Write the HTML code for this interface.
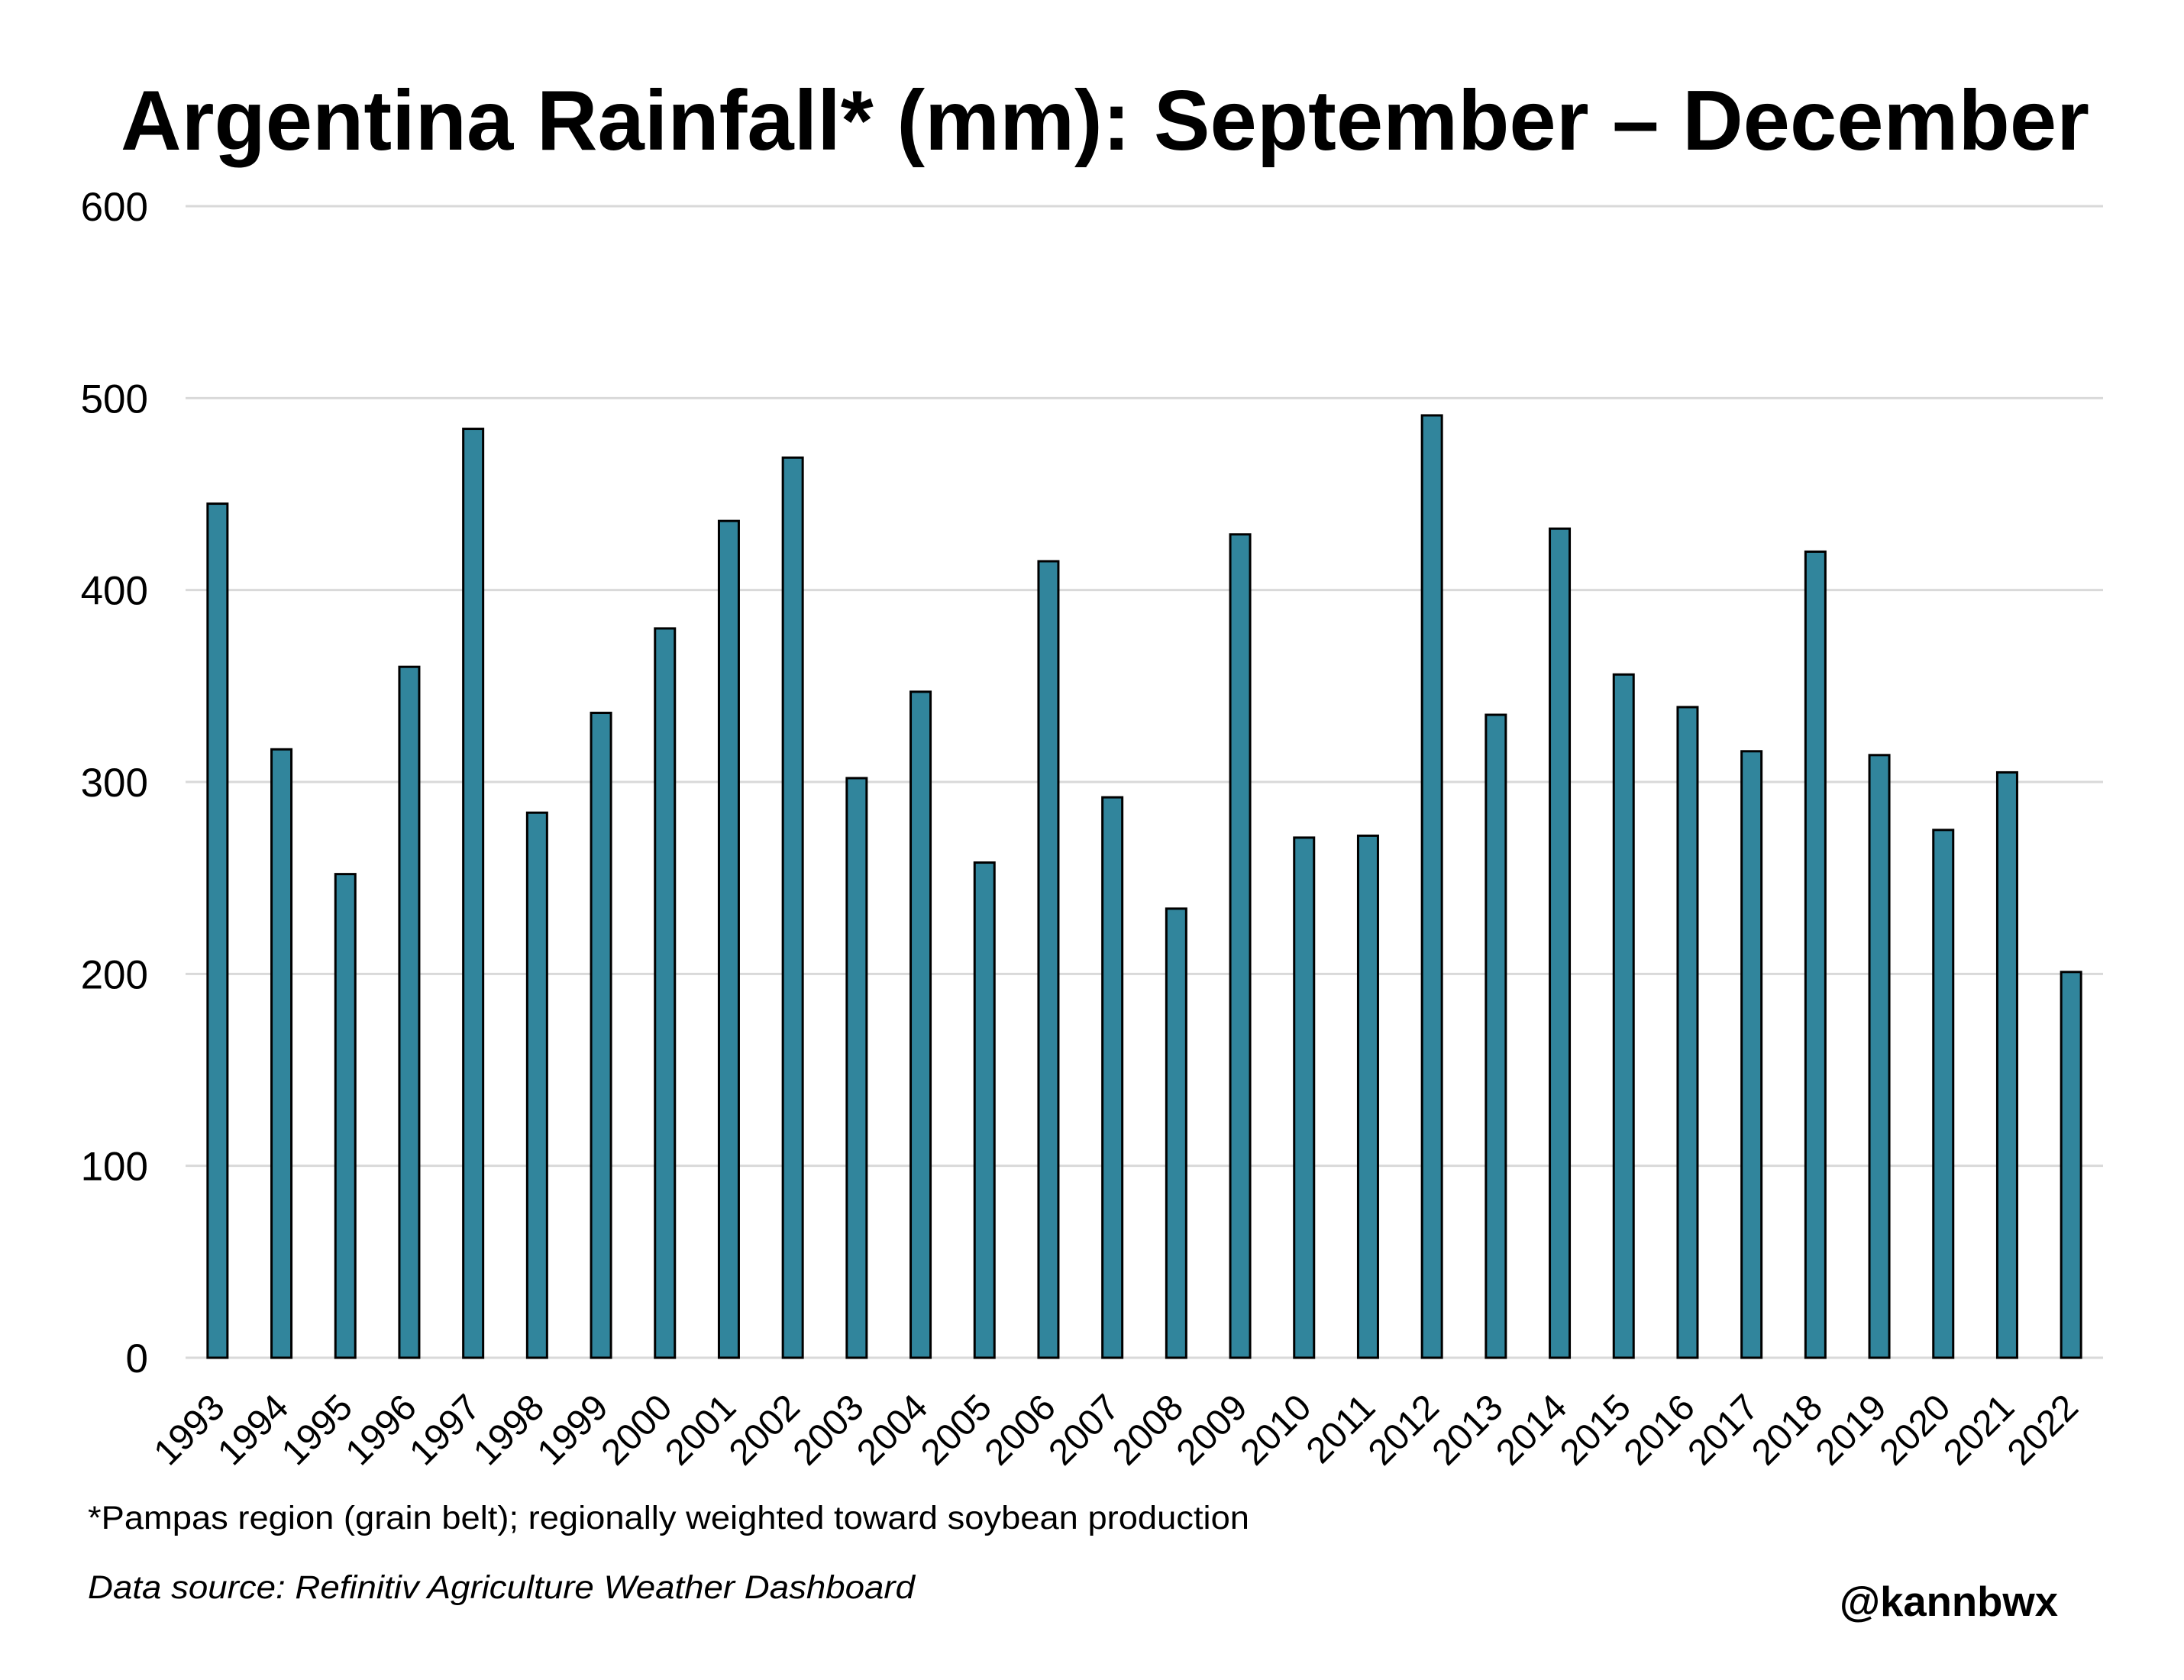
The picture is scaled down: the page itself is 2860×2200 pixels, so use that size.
<!DOCTYPE html>
<html><head><meta charset="utf-8"><style>
html,body{margin:0;padding:0;background:#fff;}
svg{display:block;font-family:"Liberation Sans",Arial,sans-serif;}
</style></head><body>
<svg id="chart" width="2860" height="2200" viewBox="0 0 2860 2200" xmlns="http://www.w3.org/2000/svg">
<rect width="2860" height="2200" fill="#fff"/>
<text x="158" y="196" font-size="111" font-weight="bold" textLength="2578" lengthAdjust="spacingAndGlyphs">Argentina Rainfall* (mm): September – December</text>
<g id="grid"></g><g id="bars"></g><g id="xlabels"></g>
<text x="115" y="2002" font-size="43" textLength="1521" lengthAdjust="spacingAndGlyphs">*Pampas region (grain belt); regionally weighted toward soybean production</text>
<text x="115" y="2093" font-size="43" font-style="italic" textLength="1083" lengthAdjust="spacingAndGlyphs">Data source: Refinitiv Agriculture Weather Dashboard</text>
<text x="2409" y="2116" font-size="55" font-weight="bold" textLength="286" lengthAdjust="spacingAndGlyphs">@kannbwx</text>
</svg>
<script>
const years = ["1993","1994","1995","1996","1997","1998","1999","2000","2001","2002","2003","2004","2005","2006","2007","2008","2009","2010","2011","2012","2013","2014","2015","2016","2017","2018","2019","2020","2021","2022"];
const rainfall = [445,317,252,360,484,284,336,380,436,469,302,347,258,415,292,234,429,271,272,491,335,432,356,339,316,420,314,275,305,201];
const yTicks = [0,100,200,300,400,500,600];

const NS = "http://www.w3.org/2000/svg";
const plotL = 243, plotR = 2754, y0 = 1778, yTop = 270, yMax = 600;
const band = (plotR - plotL) / years.length;
function yScale(v){ return y0 - (v / yMax) * (y0 - yTop); }
function xCenter(i){ return plotL + (i + 0.5) * band; }
function mk(tag, attrs, parent){ const e = document.createElementNS(NS, tag); for (const k in attrs) e.setAttribute(k, attrs[k]); parent.appendChild(e); return e; }

const grid = document.getElementById('grid');
yTicks.forEach(t => {
  const y = yScale(t);
  const ln = mk('line', {x1: plotL, x2: plotR, y1: y, y2: y, stroke: '#d9d9d9', 'stroke-width': 3}, grid);
  
  
  const tx = mk('text', {x: 194, y: y + 19, 'font-size': 53, 'text-anchor': 'end'}, grid);
  tx.textContent = String(t);
  
  
});

const bars = document.getElementById('bars');
const bw = 26;
rainfall.forEach((v, i) => {
  const cx = xCenter(i), y = yScale(v);
  const r = mk('rect', {x: cx - bw / 2, y: y, width: bw, height: y0 - y, fill: '#31859c', stroke: '#000', 'stroke-width': 3}, bars);
  
  
});

const xl = document.getElementById('xlabels');
years.forEach((yr, i) => {
  const ax = xCenter(i) + 12, ay = 1846;
  const t = mk('text', {x: ax, y: ay, 'font-size': 48, 'text-anchor': 'end', transform: 'rotate(-45 ' + ax + ' ' + ay + ')'}, xl);
  t.textContent = yr;
  
  
});
</script>
</body></html>
